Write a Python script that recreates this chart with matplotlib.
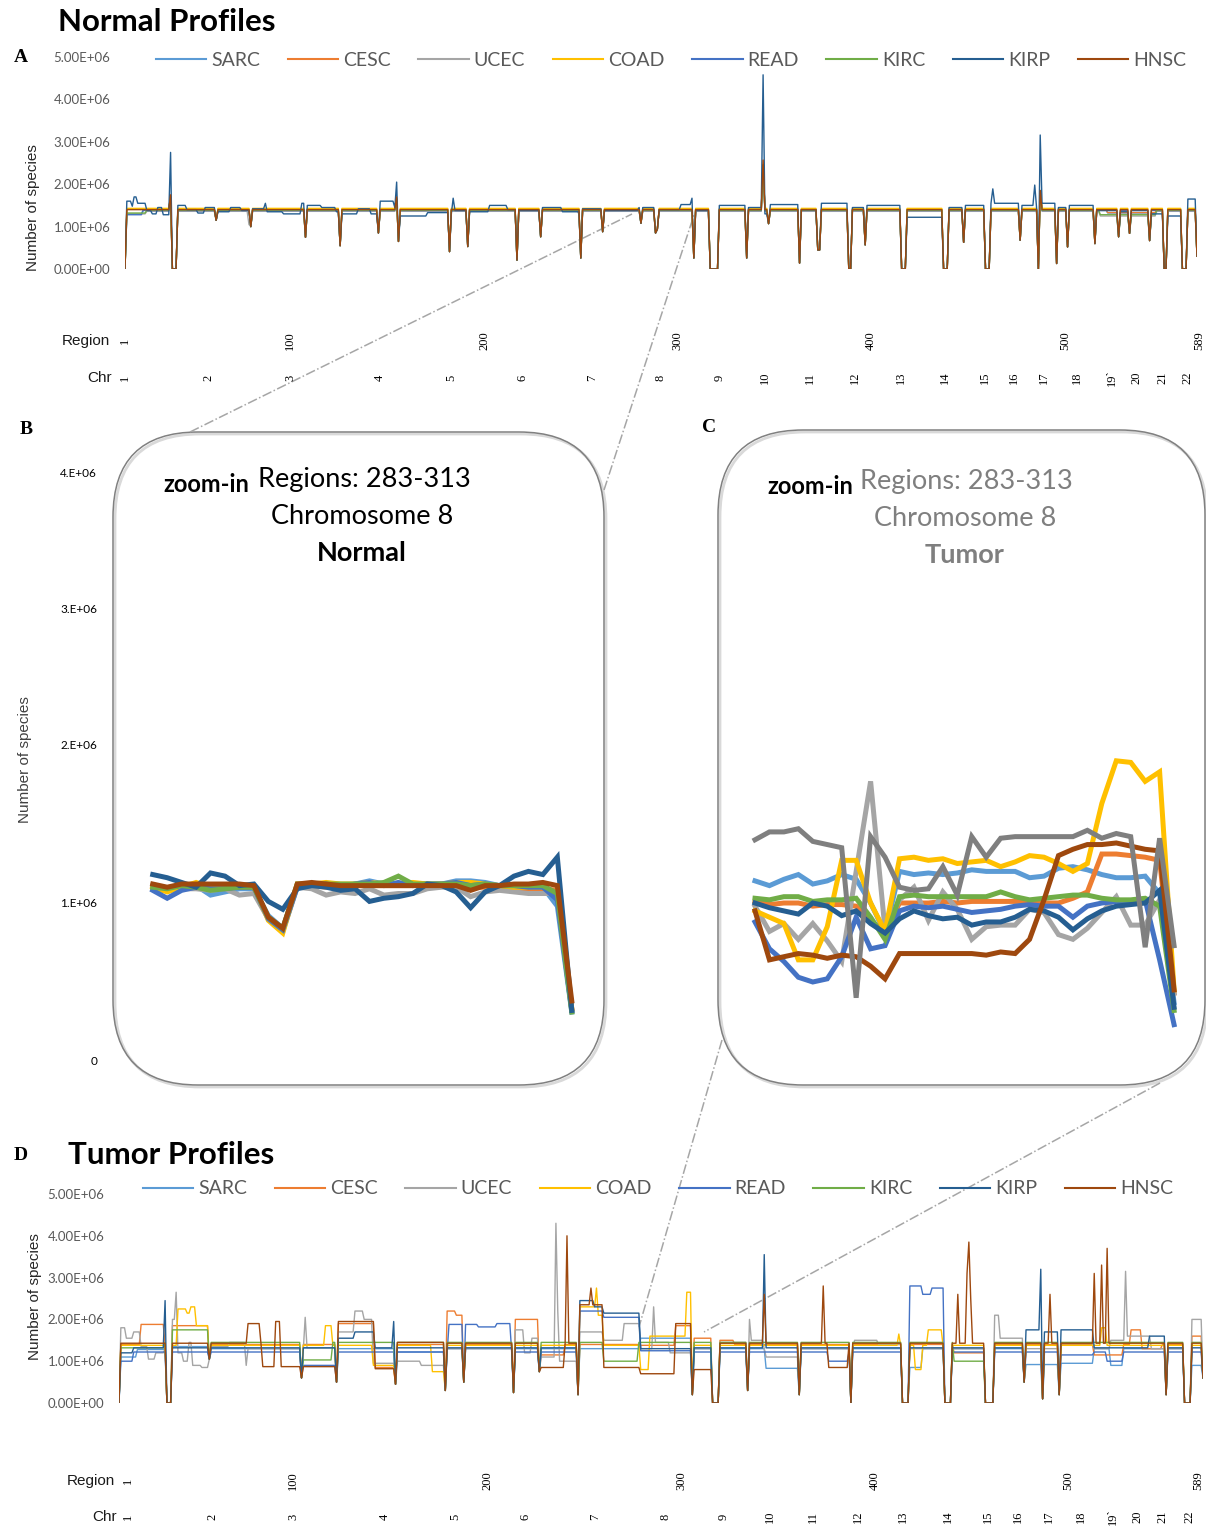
import numpy as np
import matplotlib
matplotlib.use("Agg")
import matplotlib.pyplot as plt
import matplotlib.transforms as mtrans
from matplotlib.patches import FancyBboxPatch
from matplotlib.lines import Line2D
from matplotlib.ticker import FuncFormatter, FixedLocator, FixedFormatter

plt.rcParams["font.family"] = ["Lato", "DejaVu Sans"]

cancers = ["SARC", "CESC", "UCEC", "COAD", "READ", "KIRC", "KIRP", "HNSC"]
colors = ["#5B9BD5", "#ED7D31", "#A5A5A5", "#FFC000", "#4472C4", "#70AD47", "#255E91", "#9E480E"]
extra_color = "#7F7F7F"

n_regions = 589
regions = np.arange(1, n_regions + 1)

# ---------- A: normal profiles (millions of species) ----------
normal_level = [1.40, 1.41, 1.36, 1.43, 1.38, 1.39, 1.45, 1.40]
# (start, end, value) applied to every series
normal_dips = [
    (1, 1, 0.0), (27, 29, 0.0), (51, 51, 1.15), (70, 70, 1.0), (100, 100, 0.75),
    (119, 119, 0.55), (140, 140, 0.85), (151, 151, 0.65), (179, 179, 0.41),
    (189, 189, 0.53), (216, 216, 0.21), (229, 229, 0.76), (251, 251, 0.26),
    (263, 263, 0.88), (284, 284, 1.08), (292, 292, 0.85), (293, 293, 0.94),
    (313, 313, 0.26), (322, 326, 0.0), (342, 342, 0.26), (354, 354, 1.07),
    (371, 371, 0.14), (381, 382, 0.45), (398, 399, 0.0), (407, 407, 0.57),
    (427, 429, 0.0), (450, 452, 0.0), (461, 461, 0.63), (473, 475, 0.0),
    (492, 492, 0.68), (502, 502, 0.0), (512, 512, 0.13), (518, 518, 0.52),
    (533, 533, 0.60), (546, 546, 0.76), (552, 552, 0.84), (563, 563, 0.67),
    (571, 572, 0.0), (581, 583, 0.0), (589, 589, 0.30),
]
# (series, start, end, value); "ALL" first, later entries override
normal_steps = [
    ("ALL", 26, 26, 1.70), ("ALL", 150, 150, 1.65), ("ALL", 351, 351, 2.45), ("ALL", 503, 503, 1.85),
    ("HNSC", 26, 26, 1.75), ("HNSC", 150, 150, 1.70), ("HNSC", 351, 351, 2.57),
    ("SARC", 2, 10, 1.30), ("READ", 2, 10, 1.28), ("KIRC", 2, 12, 1.32), ("UCEC", 2, 12, 1.30),
    ("KIRC", 536, 566, 1.28), ("UCEC", 536, 566, 1.25), ("SARC", 540, 566, 1.32), ("CESC", 540, 566, 1.33),
    ("UCEC", 69, 69, 1.05), ("UCEC", 250, 250, 1.30),
    ("KIRP", 2, 4, 1.60), ("KIRP", 5, 5, 1.48), ("KIRP", 6, 7, 1.70), ("KIRP", 8, 12, 1.55),
    ("KIRP", 13, 15, 1.38), ("KIRP", 16, 18, 1.30), ("KIRP", 19, 21, 1.45), ("KIRP", 22, 25, 1.28),
    ("KIRP", 26, 26, 2.75), ("KIRP", 30, 34, 1.50), ("KIRP", 35, 40, 1.40), ("KIRP", 41, 44, 1.32),
    ("KIRP", 45, 50, 1.45), ("KIRP", 52, 58, 1.35), ("KIRP", 59, 64, 1.45), ("KIRP", 65, 69, 1.38),
    ("KIRP", 71, 77, 1.42), ("KIRP", 78, 78, 1.55), ("KIRP", 79, 87, 1.35), ("KIRP", 88, 97, 1.30),
    ("KIRP", 98, 99, 1.55), ("KIRP", 101, 108, 1.50), ("KIRP", 109, 116, 1.45), ("KIRP", 117, 118, 1.35),
    ("KIRP", 120, 128, 1.30), ("KIRP", 129, 135, 1.42), ("KIRP", 136, 139, 1.30), ("KIRP", 141, 148, 1.60),
    ("KIRP", 149, 149, 1.45), ("KIRP", 150, 150, 2.05), ("KIRP", 152, 166, 1.25), ("KIRP", 167, 178, 1.33),
    ("KIRP", 180, 180, 1.30), ("KIRP", 181, 181, 1.67), ("KIRP", 182, 188, 1.38), ("KIRP", 190, 200, 1.35),
    ("KIRP", 201, 210, 1.50), ("KIRP", 211, 215, 1.40), ("KIRP", 217, 228, 1.38), ("KIRP", 230, 240, 1.45),
    ("KIRP", 241, 250, 1.35), ("KIRP", 252, 262, 1.42), ("KIRP", 264, 282, 1.38), ("KIRP", 285, 290, 1.45),
    ("KIRP", 294, 305, 1.40), ("KIRP", 306, 311, 1.52), ("KIRP", 312, 312, 1.67), ("KIRP", 314, 321, 1.38),
    ("KIRP", 327, 341, 1.50), ("KIRP", 343, 350, 1.45), ("KIRP", 351, 351, 4.58), ("KIRP", 352, 353, 1.30),
    ("KIRP", 355, 370, 1.52), ("KIRP", 372, 380, 1.40), ("KIRP", 383, 397, 1.55), ("KIRP", 400, 406, 1.45),
    ("KIRP", 408, 426, 1.50), ("KIRP", 430, 449, 1.22), ("KIRP", 453, 460, 1.45), ("KIRP", 462, 472, 1.50),
    ("KIRP", 476, 476, 1.55), ("KIRP", 477, 477, 1.89), ("KIRP", 478, 491, 1.55), ("KIRP", 493, 499, 1.50),
    ("KIRP", 500, 500, 1.98), ("KIRP", 501, 501, 1.45), ("KIRP", 503, 503, 3.16), ("KIRP", 504, 511, 1.55),
    ("KIRP", 513, 517, 1.45), ("KIRP", 519, 532, 1.50), ("KIRP", 534, 545, 1.38), ("KIRP", 547, 551, 1.35),
    ("KIRP", 553, 562, 1.38), ("KIRP", 564, 570, 1.30), ("KIRP", 573, 580, 1.25), ("KIRP", 584, 588, 1.65),
]

# ---------- D: tumor profiles (millions of species) ----------
tumor_level = [1.30, 1.40, 1.30, 1.38, 1.22, 1.45, 1.32, 1.43]
tumor_dips = [
    (1, 1, 0.0), (27, 29, 0.0), (50, 50, 1.05), (100, 100, 0.60), (119, 119, 0.50),
    (151, 151, 0.45), (178, 178, 0.30), (188, 188, 0.50), (215, 215, 0.25),
    (229, 229, 0.75), (250, 250, 0.20), (312, 312, 0.20), (323, 326, 0.0),
    (342, 342, 0.30), (370, 370, 0.20), (398, 398, 0.0), (426, 429, 0.0),
    (449, 452, 0.0), (471, 475, 0.0), (492, 492, 0.50), (502, 502, 0.10),
    (511, 511, 0.20), (569, 569, 0.20), (579, 582, 0.0), (589, 589, 0.60),
]
tumor_steps = [
    ("SARC", 2, 10, 1.10), ("SARC", 11, 25, 1.28), ("SARC", 30, 50, 1.35), ("SARC", 101, 118, 1.32),
    ("SARC", 152, 177, 1.22), ("SARC", 284, 311, 1.55), ("SARC", 352, 369, 0.83), ("SARC", 430, 436, 0.85),
    ("SARC", 493, 510, 0.92), ("SARC", 512, 529, 0.95), ("SARC", 539, 545, 0.90), ("SARC", 583, 588, 0.90),
    ("CESC", 13, 25, 1.88), ("CESC", 30, 50, 1.85), ("CESC", 120, 139, 1.90), ("CESC", 140, 150, 0.85),
    ("CESC", 179, 183, 2.20), ("CESC", 184, 187, 2.10), ("CESC", 216, 228, 2.00), ("CESC", 230, 242, 1.15),
    ("CESC", 284, 302, 1.38), ("CESC", 303, 311, 1.85), ("CESC", 313, 322, 1.55), ("CESC", 327, 334, 1.50),
    ("CESC", 454, 470, 1.20), ("CESC", 530, 545, 1.15), ("CESC", 550, 555, 1.75), ("CESC", 556, 566, 1.30),
    ("CESC", 583, 588, 1.60),
    ("UCEC", 2, 4, 1.80), ("UCEC", 5, 8, 1.55), ("UCEC", 9, 12, 1.70), ("UCEC", 13, 16, 1.35),
    ("UCEC", 17, 20, 1.05), ("UCEC", 21, 25, 1.20), ("UCEC", 30, 31, 2.00), ("UCEC", 32, 32, 2.65),
    ("UCEC", 33, 35, 1.20), ("UCEC", 36, 38, 1.00), ("UCEC", 39, 40, 1.45), ("UCEC", 41, 45, 0.90),
    ("UCEC", 46, 49, 0.85), ("UCEC", 51, 60, 1.35), ("UCEC", 61, 69, 1.45), ("UCEC", 70, 70, 0.90),
    ("UCEC", 71, 99, 1.30), ("UCEC", 102, 102, 2.05), ("UCEC", 103, 118, 1.32), ("UCEC", 120, 128, 1.70),
    ("UCEC", 129, 133, 2.20), ("UCEC", 134, 138, 2.00), ("UCEC", 139, 150, 0.95), ("UCEC", 152, 164, 1.00),
    ("UCEC", 165, 177, 0.90), ("UCEC", 179, 187, 1.30), ("UCEC", 216, 220, 1.75), ("UCEC", 221, 224, 1.20),
    ("UCEC", 225, 228, 1.55), ("UCEC", 230, 237, 1.10), ("UCEC", 238, 238, 4.30), ("UCEC", 239, 239, 2.20),
    ("UCEC", 240, 249, 1.00), ("UCEC", 251, 263, 1.70), ("UCEC", 264, 274, 1.50), ("UCEC", 275, 283, 1.90),
    ("UCEC", 284, 290, 1.30), ("UCEC", 291, 291, 2.30), ("UCEC", 292, 299, 1.45), ("UCEC", 300, 311, 1.20),
    ("UCEC", 327, 342, 1.45), ("UCEC", 343, 343, 2.00), ("UCEC", 344, 350, 1.50), ("UCEC", 352, 369, 1.10),
    ("UCEC", 386, 396, 1.30), ("UCEC", 400, 412, 1.50), ("UCEC", 413, 425, 1.40), ("UCEC", 476, 478, 2.10),
    ("UCEC", 479, 491, 1.55), ("UCEC", 512, 529, 1.42), ("UCEC", 539, 546, 1.50), ("UCEC", 547, 547, 3.15),
    ("UCEC", 548, 560, 1.60), ("UCEC", 583, 588, 2.00),
    ("COAD", 33, 37, 2.25), ("COAD", 38, 39, 2.15), ("COAD", 40, 42, 2.30), ("COAD", 43, 50, 1.85),
    ("COAD", 113, 116, 1.85), ("COAD", 139, 150, 0.90), ("COAD", 171, 177, 0.75), ("COAD", 251, 259, 2.30),
    ("COAD", 260, 260, 2.75), ("COAD", 261, 263, 2.10), ("COAD", 284, 288, 0.80), ("COAD", 289, 308, 1.60),
    ("COAD", 309, 311, 2.65), ("COAD", 424, 424, 1.65), ("COAD", 433, 436, 0.80), ("COAD", 440, 447, 1.75),
    ("COAD", 534, 536, 1.80),
    ("READ", 2, 8, 1.00), ("READ", 101, 118, 0.90), ("READ", 180, 195, 1.88), ("READ", 196, 205, 1.82),
    ("READ", 206, 213, 1.90), ("READ", 251, 263, 2.20), ("READ", 264, 283, 2.05), ("READ", 284, 311, 1.25),
    ("READ", 386, 396, 1.00), ("READ", 430, 436, 2.80), ("READ", 437, 441, 2.60), ("READ", 442, 448, 2.75),
    ("READ", 512, 529, 1.15), ("READ", 537, 545, 1.00),
    ("KIRC", 2, 25, 1.32), ("KIRC", 30, 50, 1.75), ("KIRC", 101, 116, 1.03), ("KIRC", 264, 282, 1.00),
    ("KIRC", 454, 470, 1.00),
    ("KIRP", 2, 8, 1.20), ("KIRP", 9, 25, 1.32), ("KIRP", 26, 26, 2.45), ("KIRP", 120, 128, 1.55),
    ("KIRP", 129, 139, 1.70), ("KIRP", 150, 150, 1.95), ("KIRP", 251, 258, 2.45), ("KIRP", 259, 263, 2.30),
    ("KIRP", 264, 283, 2.15), ("KIRP", 284, 311, 1.30), ("KIRP", 351, 351, 3.55), ("KIRP", 493, 500, 1.75),
    ("KIRP", 501, 501, 3.20), ("KIRP", 503, 510, 1.70), ("KIRP", 512, 529, 1.75), ("KIRP", 560, 568, 1.60),
    ("HNSC", 71, 77, 1.90), ("HNSC", 79, 85, 0.87), ("HNSC", 86, 88, 1.95), ("HNSC", 89, 99, 0.87),
    ("HNSC", 101, 118, 0.87), ("HNSC", 120, 139, 1.95), ("HNSC", 140, 150, 0.82), ("HNSC", 152, 177, 1.45),
    ("HNSC", 230, 242, 0.85), ("HNSC", 244, 244, 4.00), ("HNSC", 251, 256, 2.35), ("HNSC", 257, 257, 2.75),
    ("HNSC", 258, 263, 2.35), ("HNSC", 264, 283, 0.85), ("HNSC", 284, 302, 0.70), ("HNSC", 303, 311, 1.90),
    ("HNSC", 313, 322, 0.80), ("HNSC", 351, 351, 2.60), ("HNSC", 383, 383, 2.80), ("HNSC", 386, 396, 0.85),
    ("HNSC", 456, 456, 2.60), ("HNSC", 461, 461, 3.10), ("HNSC", 462, 462, 3.85), ("HNSC", 463, 463, 2.50),
    ("HNSC", 506, 506, 2.60), ("HNSC", 530, 530, 3.10), ("HNSC", 534, 534, 3.30), ("HNSC", 537, 537, 3.70),
]

# ---------- B / C: zoom-in, regions 283-312 ----------
zoom_regions = np.arange(283, 313)
normal_zoom = {
    "SARC": [1.09, 1.08, 1.10, 1.11, 1.05, 1.07, 1.09, 1.09, 0.92, 0.84, 1.11, 1.11, 1.12, 1.11, 1.12,
             1.14, 1.12, 1.12, 1.12, 1.12, 1.12, 1.14, 1.14, 1.13, 1.11, 1.10, 1.10, 1.10, 0.98, 0.31],
    "CESC": [1.11, 1.09, 1.11, 1.11, 1.10, 1.10, 1.10, 1.10, 0.90, 0.83, 1.11, 1.11, 1.10, 1.10, 1.11,
             1.11, 1.11, 1.11, 1.11, 1.12, 1.11, 1.11, 1.10, 1.10, 1.09, 1.09, 1.09, 1.09, 1.08, 0.33],
    "UCEC": [1.09, 1.08, 1.09, 1.09, 1.08, 1.09, 1.05, 1.06, 0.90, 0.82, 1.10, 1.09, 1.05, 1.07, 1.06,
             1.09, 1.05, 1.06, 1.06, 1.09, 1.10, 1.10, 1.04, 1.07, 1.08, 1.07, 1.06, 1.06, 1.06, 0.33],
    "COAD": [1.10, 1.07, 1.10, 1.13, 1.10, 1.11, 1.11, 1.11, 0.89, 0.81, 1.12, 1.12, 1.13, 1.12, 1.12,
             1.13, 1.12, 1.12, 1.13, 1.12, 1.12, 1.13, 1.13, 1.12, 1.11, 1.10, 1.10, 1.10, 1.05, 0.33],
    "READ": [1.08, 1.03, 1.08, 1.10, 1.09, 1.09, 1.10, 1.10, 0.90, 0.83, 1.10, 1.11, 1.12, 1.10, 1.12,
             1.13, 1.11, 1.13, 1.11, 1.12, 1.12, 1.13, 1.11, 1.12, 1.11, 1.11, 1.10, 1.10, 1.02, 0.32],
    "KIRC": [1.10, 1.09, 1.11, 1.10, 1.08, 1.09, 1.10, 1.10, 0.91, 0.84, 1.12, 1.12, 1.12, 1.12, 1.12,
             1.12, 1.13, 1.17, 1.12, 1.12, 1.12, 1.12, 1.11, 1.12, 1.11, 1.11, 1.11, 1.11, 1.06, 0.31],
    "KIRP": [1.18, 1.16, 1.13, 1.10, 1.19, 1.17, 1.11, 1.12, 1.01, 0.96, 1.09, 1.11, 1.10, 1.08, 1.09,
             1.01, 1.03, 1.04, 1.06, 1.12, 1.11, 1.07, 0.97, 1.07, 1.11, 1.17, 1.20, 1.18, 1.29, 0.32],
    "HNSC": [1.12, 1.10, 1.12, 1.12, 1.12, 1.12, 1.12, 1.11, 0.91, 0.84, 1.12, 1.13, 1.12, 1.11, 1.11,
             1.11, 1.11, 1.11, 1.11, 1.11, 1.11, 1.11, 1.08, 1.11, 1.11, 1.12, 1.12, 1.13, 1.11, 0.38],
}
tumor_zoom = {
    "SARC": [1.14, 1.11, 1.15, 1.18, 1.12, 1.14, 1.18, 1.15, 1.00, 0.81, 1.20, 1.18, 1.19, 1.18, 1.19,
             1.21, 1.20, 1.20, 1.20, 1.16, 1.17, 1.22, 1.23, 1.21, 1.18, 1.16, 1.16, 1.17, 1.06, 0.37],
    "CESC": [1.01, 0.99, 1.00, 1.00, 0.98, 0.99, 0.99, 0.98, 0.89, 0.81, 1.00, 1.00, 1.00, 1.01, 1.00,
             1.01, 1.01, 1.01, 1.01, 1.01, 1.00, 1.00, 1.03, 1.07, 1.31, 1.31, 1.30, 1.29, 1.27, 0.43],
    "UCEC": [0.98, 0.82, 0.87, 0.77, 0.87, 0.76, 0.63, 1.20, 1.77, 0.83, 1.02, 1.10, 0.89, 1.07, 0.96,
             0.77, 0.85, 0.86, 0.86, 0.96, 0.94, 0.80, 0.77, 0.84, 0.94, 1.04, 0.86, 0.86, 1.02, 0.43],
    "COAD": [0.95, 0.91, 0.87, 0.64, 0.64, 0.85, 1.27, 1.27, 1.00, 0.82, 1.28, 1.29, 1.27, 1.28, 1.25,
             1.26, 1.27, 1.23, 1.26, 1.30, 1.29, 1.25, 1.20, 1.25, 1.63, 1.90, 1.89, 1.77, 1.83, 0.45],
    "READ": [0.88, 0.71, 0.63, 0.53, 0.50, 0.52, 0.66, 0.91, 0.71, 0.73, 0.95, 0.98, 0.97, 0.98, 0.96,
             0.94, 0.95, 0.96, 0.98, 0.99, 0.98, 0.98, 0.91, 0.98, 1.00, 1.01, 1.01, 1.02, 0.64, 0.23],
    "KIRC": [1.03, 1.02, 1.04, 1.04, 1.01, 1.02, 1.02, 1.03, 0.91, 0.77, 1.04, 1.05, 1.04, 1.04, 1.04,
             1.04, 1.04, 1.07, 1.04, 1.02, 1.03, 1.04, 1.05, 1.05, 1.03, 1.02, 1.02, 1.03, 0.98, 0.32],
    "KIRP": [1.00, 0.97, 0.95, 0.93, 1.00, 0.98, 0.92, 0.95, 0.87, 0.81, 0.90, 0.95, 0.92, 0.90, 0.91,
             0.86, 0.88, 0.88, 0.91, 0.96, 0.95, 0.91, 0.83, 0.90, 0.95, 0.98, 0.99, 1.00, 1.08, 0.34],
    "HNSC": [0.95, 0.64, 0.66, 0.68, 0.67, 0.65, 0.67, 0.66, 0.60, 0.52, 0.68, 0.68, 0.68, 0.68, 0.68,
             0.68, 0.67, 0.69, 0.68, 0.77, 1.02, 1.30, 1.34, 1.37, 1.37, 1.38, 1.36, 1.34, 1.33, 0.45],
}
tumor_zoom_extra = [1.40, 1.45, 1.45, 1.47, 1.39, 1.37, 1.35, 0.40, 1.42, 1.29, 1.10, 1.08, 1.09, 1.23, 1.05,
                    1.42, 1.29, 1.41, 1.42, 1.42, 1.42, 1.42, 1.42, 1.46, 1.41, 1.44, 1.42, 0.72, 1.41, 0.73]

# label strips under A and D (label centres, in region units of each panel)
region_labels = ["1", "100", "200", "300", "400", "500", "589"]
chr_labels = [str(i) for i in range(1, 19)] + ["19`", "20", "21", "22"]
region_label_pos_A = [1, 91.5, 198, 304, 410, 517, 590]
chr_label_pos_A = [1, 46.5, 91.5, 141, 180, 218.8, 257, 295, 327, 352, 376.8, 401.4, 426.7,
                   451, 472.8, 488.7, 505, 523, 542.4, 556, 569.8, 583.6]
region_label_pos_D = [5.9, 95.5, 201, 306, 411, 516, 586.5]
chr_label_pos_D = [5.9, 51.5, 95.5, 145.4, 183.4, 221.4, 259.4, 297.4, 328.9, 353.9, 377.2, 401.7, 426.1,
                   450.5, 472.2, 488.5, 505.3, 522.7, 540.1, 553.7, 567.2, 581.4]


def build(name, level, steps, dips):
    y = np.full(n_regions, level, dtype=float)
    for nm, s, e, v in steps:
        if nm == "ALL" or nm == name:
            y[s - 1:e] = v
    for s, e, v in dips:
        y[s - 1:e] = v
    return y * 1e6


W, H = 1206, 1526
fig = plt.figure(figsize=(W / 100, H / 100), dpi=100)


def px_axes(l, t, r, b):
    a = fig.add_axes([l / W, 1 - b / H, (r - l) / W, (b - t) / H], zorder=2)
    a.set_facecolor("none")
    for s in a.spines.values():
        s.set_visible(False)
    return a


over = fig.add_axes([0, 0, 1, 1], zorder=0)
over.set_xlim(0, W)
over.set_ylim(H, 0)
over.axis("off")

sci = FuncFormatter(lambda v, _: f"{v:.2E}")
GRAYTXT = "#595959"


def profile_panel(ax, level, steps, dips):
    for i, name in enumerate(cancers):
        ax.plot(regions, build(name, level[i], steps, dips), color=colors[i], lw=1.0, label=name)
    ax.set_xlim(1, n_regions)
    ax.set_ylim(0, 5e6)
    ax.set_yticks(np.arange(0, 5.01e6, 1e6))
    ax.yaxis.set_major_formatter(sci)
    ax.set_xticks([])
    ax.tick_params(axis="y", length=0, pad=10.5, labelsize=9.5, labelcolor=GRAYTXT)


def strip(ax, y_region, y_chr, x_word, rpos, cpos):
    tr = mtrans.blended_transform_factory(ax.transData, over.transData)
    over.text(x_word, y_region, "Region", ha="right", va="center", fontsize=11,
              family="Liberation Sans", color="#1a1a1a")
    over.text(x_word + 2, y_chr, "Chr", ha="right", va="center", fontsize=11,
              family="Liberation Sans", color="#1a1a1a")
    for lab, p in zip(region_labels, rpos):
        over.text(p, y_region, lab, transform=tr, rotation=90, ha="center", va="center",
                  fontsize=9, family="Liberation Serif")
    for lab, p in zip(chr_labels, cpos):
        over.text(p, y_chr, lab, transform=tr, rotation=90, ha="center", va="center",
                  fontsize=9, family="Liberation Serif")


def profile_legend(ax, cx, cy):
    leg = ax.legend(loc="center", bbox_to_anchor=(cx / W, 1 - cy / H), bbox_transform=fig.transFigure,
                    ncol=8, frameon=False, fontsize=14, handlelength=2.6, handletextpad=0.25,
                    columnspacing=1.42, labelcolor=GRAYTXT)
    for h in leg.get_lines():
        h.set_linewidth(1.5)


# ---- panel A
axA = px_axes(125, 57, 1197, 269)
profile_panel(axA, normal_level, normal_steps, normal_dips)
profile_legend(axA, 671, 60)
over.text(58, 22, "Normal Profiles", fontsize=22.5, weight="bold", va="center", ha="left")
over.text(14, 58, "A", fontsize=14, weight="bold", family="Liberation Serif", va="center")
over.text(33, 208, "Number of species", rotation=90, ha="center", va="center", fontsize=11,
          family="Liberation Sans", color="#262626")
strip(axA, 341, 378, 110, region_label_pos_A, chr_label_pos_A)

# ---- panel D
axD = px_axes(119, 1194, 1203, 1403)
profile_panel(axD, tumor_level, tumor_steps, tumor_dips)
profile_legend(axD, 658, 1189)
over.text(68, 1155, "Tumor Profiles", fontsize=22.5, weight="bold", va="center", ha="left")
over.text(14, 1155, "D", fontsize=14, weight="bold", family="Liberation Serif", va="center")
over.text(35, 1297, "Number of species", rotation=90, ha="center", va="center", fontsize=11,
          family="Liberation Sans", color="#262626")
strip(axD, 1481, 1517, 115, region_label_pos_D, chr_label_pos_D)

# ---- rounded boxes for B and C
for (l, t, r, b) in [(113, 432, 604, 1085), (718, 430, 1205, 1085)]:
    over.add_patch(FancyBboxPatch((l + 2, t + 2), r - l, b - t, boxstyle="round,pad=0,rounding_size=85",
                                  fc="none", ec="#d9d9d9", lw=2.0))
    over.add_patch(FancyBboxPatch((l, t), r - l, b - t, boxstyle="round,pad=0,rounding_size=85",
                                  fc="none", ec="#808080", lw=1.1))

# dash-dot connectors
for (x0, y0), (x1, y1) in [((190, 432), (632, 214)), ((604, 490), (694, 215)),
                           ((722, 1040), (639, 1327)), ((1160, 1083), (704, 1332))]:
    over.add_line(Line2D([x0, x1], [y0, y1], color="#A6A6A6", lw=1.1, ls="-."))


def zoom_panel(ax, data, extra=None):
    for i, name in enumerate(cancers):
        ax.plot(zoom_regions, np.array(data[name]) * 1e6, color=colors[i], lw=3.6,
                solid_joinstyle="miter")
    if extra is not None:
        ax.plot(zoom_regions, np.array(extra) * 1e6, color=extra_color, lw=3.6, solid_joinstyle="miter")
    ax.set_xticks([])


def zoom_titles(x_zoom, x_reg, xc, y0, kind, col):
    over.text(x_zoom, y0 + 6, "zoom-in", fontsize=17, weight="bold", va="center", ha="left")
    over.text(x_reg, y0, "Regions: 283-313", fontsize=19.5, va="center", ha="left", color=col)
    over.text(xc, y0 + 37, "Chromosome 8", fontsize=19.5, va="center", ha="center", color=col)
    over.text(xc, y0 + 74, kind, fontsize=19.5, weight="bold", va="center", ha="center", color=col)


# ---- panel B
axB = px_axes(113, 432, 604, 1085)
zoom_panel(axB, normal_zoom)
axB.set_xlim(283 - 2.75, 283 + 31.23)
axB.set_ylim(-0.152e6, 3.981e6)
axB.yaxis.set_major_locator(FixedLocator([0, 1e6, 2e6, 2.861e6, 3.722e6]))
axB.yaxis.set_major_formatter(FixedFormatter(["0", "1.E+06", "2.E+06", "3.E+06", "4.E+06"]))
axB.tick_params(axis="y", length=0, pad=11.5, labelsize=8.5)
over.text(20, 430, "B", fontsize=14, weight="bold", family="Liberation Serif", va="center")
over.text(25, 760, "Number of species", rotation=90, ha="center", va="center", fontsize=11,
          family="Liberation Sans", color="#404040")
zoom_titles(163, 258, 362, 479, "Normal", "black")

# ---- panel C
axC = px_axes(718, 430, 1205, 1085)
zoom_panel(axC, tumor_zoom, tumor_zoom_extra)
axC.set_xlim(283 - 2.56, 283 + 31.14)
axC.set_ylim(-0.152e6, 3.994e6)
axC.set_yticks([])
over.text(702, 427, "C", fontsize=14, weight="bold", family="Liberation Serif", va="center")
zoom_titles(767, 860, 965, 481, "Tumor", "#7F7F7F")

fig.savefig("out.png", dpi=100, facecolor="white")
